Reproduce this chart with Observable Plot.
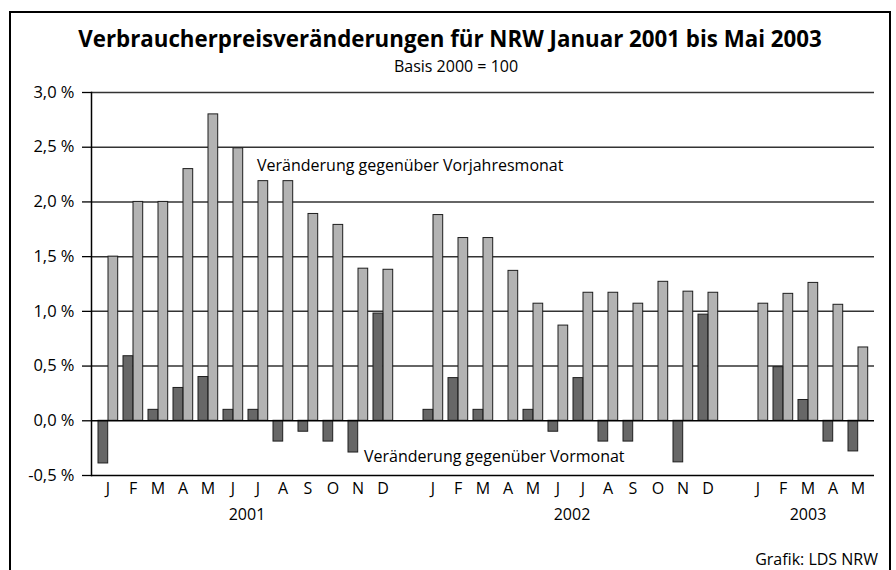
<!DOCTYPE html>
<html><head><meta charset="utf-8">
<script src="https://cdn.jsdelivr.net/npm/d3@7"></script>
<script src="https://cdn.jsdelivr.net/npm/@observablehq/plot@0.6"></script>
<style>
body{margin:0;background:#fff;font-family:"Open Sans",sans-serif;color:#000;}
#wrap{position:relative;width:896px;height:570px;overflow:hidden;background:#fff;}
#border{position:absolute;left:9px;top:11px;width:878px;height:620px;border:2px solid #000;}
#title{position:absolute;left:0;width:900px;top:28px;text-align:center;font-weight:700;font-size:22.3px;line-height:22px;white-space:nowrap;}
#subtitle{position:absolute;left:0;width:912px;top:57.5px;text-align:center;font-size:16px;line-height:16px;white-space:nowrap;}
#chart{position:absolute;left:0;top:75px;}
#caption{position:absolute;right:18px;top:551px;font-size:16px;line-height:16px;}
</style></head>
<body>
<div id="wrap">
  <div id="border"></div>
  <div id="title">Verbraucherpreisveränderungen für NRW Januar 2001 bis Mai 2003</div>
  <div id="subtitle">Basis 2000 = 100</div>
  <div id="chart"></div>
  <div id="caption">Grafik: LDS NRW</div>
</div>
<script>
// ---- data ----
const years = [2001, 2002, 2003];
const monthsPerYear = [12, 12, 5];
const monthLabels = ["J","F","M","A","M","J","J","A","S","O","N","D"];
// Veränderung gegenüber Vormonat (%), null = no bar
const vormonat = [
  -0.39, 0.59, 0.1, 0.3, 0.4, 0.1, 0.1, -0.19, -0.1, -0.19, -0.29, 0.98,
  0.1, 0.39, 0.1, null, 0.1, -0.1, 0.39, -0.19, -0.19, null, -0.38, 0.97,
  null, 0.49, 0.19, -0.19, -0.28
];
// Veränderung gegenüber Vorjahresmonat (%)
const vorjahresmonat = [
  1.5, 2.0, 2.0, 2.3, 2.8, 2.49, 2.19, 2.19, 1.89, 1.79, 1.39, 1.38,
  1.88, 1.67, 1.67, 1.37, 1.07, 0.87, 1.17, 1.17, 1.07, 1.27, 1.18, 1.17,
  1.07, 1.16, 1.26, 1.06, 0.67
];
const yTicks = [-0.5, 0, 0.5, 1.0, 1.5, 2.0, 2.5, 3.0];
const yearLabelSlots = ["2001-5", "2002-5", "2003-2"];
const annoLabels = ["Veränderung gegenüber Vorjahresmonat", "Veränderung gegenüber Vormonat"];
const annoSlots = ["2001-6", "2001-10"];
const annoValues = [2.33, -0.33];

// ---- build slots ----
const slotKeys = [];
const slotLabel = {};
const rows = [];
let idx = 0;
years.forEach((yr, i) => {
  for (let m = 0; m < monthsPerYear[i]; m++) {
    const k = `${yr}-${m}`;
    slotKeys.push(k);
    slotLabel[k] = monthLabels[m];
    rows.push({slot: k, vormonat: vormonat[idx], vorjahr: vorjahresmonat[idx]});
    idx++;
  }
  if (i < years.length - 1) {
    const k = `gap-${yr}`;
    slotKeys.push(k);
    slotLabel[k] = "";
  }
});

const fmt = d => d.toFixed(1).replace(".", ",") + " %";

const chart = Plot.plot({
  width: 896,
  height: 460,
  marginTop: 17,
  marginBottom: 60,
  marginLeft: 91,
  marginRight: 22,
  style: {fontFamily: "'Open Sans', sans-serif", fontSize: "16px", color: "#000", background: "transparent"},
  x: {type: "band", domain: slotKeys, padding: 0, axis: null, label: null},
  y: {domain: [-0.5, 3.0], axis: null, label: null},
  marks: [
    Plot.ruleY(yTicks.filter(d => d > 0), {stroke: "#333", strokeWidth: 1.5}),
    Plot.barY(rows, {x: "slot", y: "vorjahr", fill: "#b3b3b3", stroke: "#1e1e1e", strokeWidth: 1, insetLeft: 13, insetRight: 2.3}),
    Plot.barY(rows.filter(d => d.vormonat != null), {x: "slot", y: "vormonat", fill: "#676767", stroke: "#1e1e1e", strokeWidth: 1, insetLeft: 3, insetRight: 12.3}),
    Plot.ruleY([0], {stroke: "#000", strokeWidth: 1.5}),
    Plot.ruleY([-0.5], {stroke: "#000", strokeWidth: 1.5}),
    Plot.frame({anchor: "left", stroke: "#000", strokeWidth: 1.5}),
    Plot.axisY({ticks: yTicks, tickFormat: fmt, tickSize: 9, tickPadding: 8, fontSize: 16.5, stroke: "#000", strokeWidth: 1.3, label: null}),
    Plot.axisX({tickFormat: d => slotLabel[d], tickSize: 0, tickPadding: 7, fontSize: 16, label: null}),
    Plot.text(yearLabelSlots.slice(0, 2).map((s, i) => ({slot: s, label: String(years[i])})),
      {x: "slot", frameAnchor: "bottom", text: "label", dx: 14, dy: 39.5, fontSize: 16, lineAnchor: "middle"}),
    Plot.text([{slot: yearLabelSlots[2], label: String(years[2])}],
      {x: "slot", frameAnchor: "bottom", text: "label", dy: 39.5, fontSize: 16, lineAnchor: "middle"}),
    Plot.text([{slot: annoSlots[0], v: annoValues[0], label: annoLabels[0]}],
      {x: "slot", y: "v", text: "label", textAnchor: "start", dx: -1, fontSize: 16, lineAnchor: "middle"}),
    Plot.text([{slot: annoSlots[1], v: annoValues[1], label: annoLabels[1]}],
      {x: "slot", y: "v", text: "label", textAnchor: "start", dx: 6, fontSize: 16, lineAnchor: "middle"})
  ]
});
document.getElementById("chart").appendChild(chart);
</script>
</body></html>
